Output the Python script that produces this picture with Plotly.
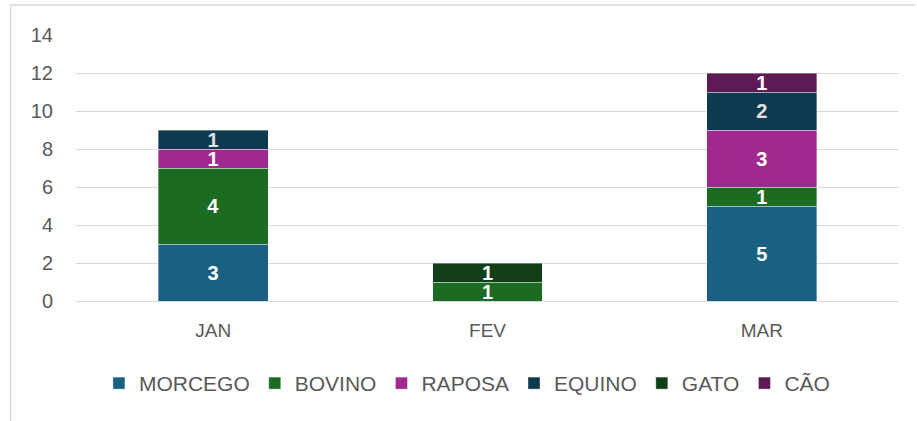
import plotly.graph_objects as go

months = ["JAN", "FEV", "MAR"]
series_names = ["MORCEGO", "BOVINO", "RAPOSA", "EQUINO", "GATO", "CÃO"]
morcego = [3, None, 5]
bovino = [4, 1, 1]
raposa = [1, None, 3]
equino = [1, None, 2]
gato = [None, 1, None]
cao = [None, None, 1]
y_ticks = [0, 2, 4, 6, 8, 10, 12, 14]

colors = ["#1a6082", "#1b6b22", "#a0298f", "#0e3a50", "#113f18", "#5e1a55"]
label_colors = ["#ffffff", "#ffffff", "#ffffff", "#e2e2e2", "#ffffff", "#ffffff"]
values = [morcego, bovino, raposa, equino, gato, cao]

fig = go.Figure()
for name, vals, col, lc in zip(series_names, values, colors, label_colors):
    fig.add_trace(go.Bar(
        name=name, x=months, y=vals,
        marker=dict(color=col, line=dict(color="rgba(255,255,255,0.45)", width=0.8)),
        text=[("" if v is None else str(v)) for v in vals],
        textposition="inside", insidetextanchor="middle", textangle=0,
        constraintext="none",
        textfont=dict(family="Liberation Sans", size=20, color=lc, weight="bold"),
        cliponaxis=False,
    ))

fig.update_layout(
    barmode="stack", bargap=0.6,
    width=917, height=421,
    margin=dict(l=75.5, r=17.5, t=35, b=120),
    paper_bgcolor="white", plot_bgcolor="white",
    font=dict(family="Liberation Sans", color="#595959"),
    showlegend=True,
    legend=dict(orientation="h", x=0.475, xanchor="center", y=-0.31, yanchor="middle",
                font=dict(size=21, color="#595959"), traceorder="normal"),
    xaxis=dict(showgrid=False, showline=False, ticks="", tickfont=dict(size=19),
               ticklabelstandoff=16),
    yaxis=dict(range=[0, 14], tickvals=y_ticks, showgrid=True, gridcolor="#d9d9d9",
               gridwidth=1.3, zeroline=True, zerolinecolor="#d9d9d9", zerolinewidth=1.3,
               showline=False, ticks="", tickfont=dict(size=20), ticklabelstandoff=22),
    shapes=[
        dict(type="line", xref="paper", yref="paper",
             x0=(10 - 75.5) / 824, x1=(916 - 75.5) / 824,
             y0=(301 - 5) / 266, y1=(301 - 5) / 266,
             line=dict(color="#d9d9d9", width=1.5)),
        dict(type="line", xref="paper", yref="paper",
             x0=(10 - 75.5) / 824, x1=(10 - 75.5) / 824,
             y0=(301 - 5) / 266, y1=(301 - 421) / 266,
             line=dict(color="#d9d9d9", width=1.5)),
    ],
)

fig.write_html("out.html", config={"displayModeBar": False},
               post_script="document.body.style.margin='0px';")
